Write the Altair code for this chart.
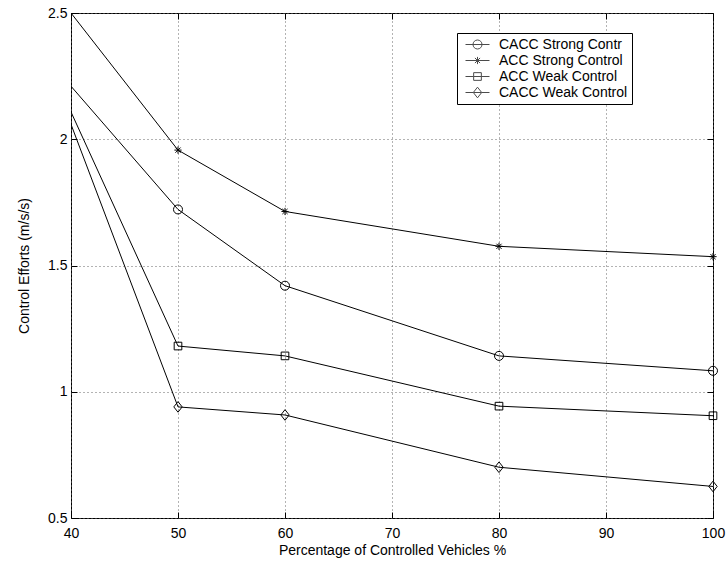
import altair as alt
import pandas as pd

# ---- data ----
pct = [40, 50, 60, 80, 100]
series_names = ["CACC Strong Contr", "ACC Strong Control", "ACC Weak Control", "CACC Weak Control"]
cacc_strong = [2.21, 1.722, 1.420, 1.142, 1.083]
acc_strong = [2.50, 1.957, 1.714, 1.576, 1.535]
acc_weak = [2.108, 1.181, 1.142, 0.943, 0.905]
cacc_weak = [2.059, 0.940, 0.908, 0.701, 0.625]
x_ticks = [40, 50, 60, 70, 80, 90, 100]
y_ticks = [0.5, 1, 1.5, 2, 2.5]

# ---- marker shapes (unit paths) ----
marker_paths = [
    "M-1,0A1,1 0 1,1 1,0A1,1 0 1,1 -1,0Z",
    "M-0.8,0L0.8,0M0,-0.8L0,0.8M-0.57,-0.57L0.57,0.57M-0.57,0.57L0.57,-0.57",
    "M-0.85,-0.85L0.85,-0.85L0.85,0.85L-0.85,0.85Z",
    "M0,-1.18L0.93,0L0,1.18L-0.93,0Z",
]
legend_paths = [
    "M-1.714,0L-0.643,0M0.643,0L1.714,0M-0.643,0A0.643,0.643 0 1,1 0.643,0A0.643,0.643 0 1,1 -0.643,0M-0.643,0L0.643,0",
    "M-1.714,0L1.714,0M0,-0.514L0,0.514M-0.367,-0.367L0.367,0.367M-0.367,0.367L0.367,-0.367",
    "M-1.714,0L-0.55,0M0.55,0L1.714,0M-0.55,-0.55L0.55,-0.55L0.55,0.55L-0.55,0.55ZM-0.55,0L0.55,0",
    "M-1.714,0L-0.6,0M0.6,0L1.714,0M0,-0.76L0.6,0L0,0.76L-0.6,0ZM-0.6,0L0.6,0",
]

rows = []
for name, vals in zip(series_names, [cacc_strong, acc_strong, acc_weak, cacc_weak]):
    for p, v in zip(pct, vals):
        rows.append({"pct": p, "value": v, "series": name})
df = pd.DataFrame(rows)

W, H = 642, 505
FONT = "Liberation Sans"
xs = alt.Scale(domain=[40, 100], nice=False, zero=False)
ys = alt.Scale(domain=[0.5, 2.5], nice=False, zero=False)

main_x = alt.Axis(orient="bottom", values=x_ticks, grid=True, gridDash=[1, 3], gridColor="#666",
                  gridWidth=1, ticks=False, domain=False, labelPadding=8, labelFlush=False,
                  title="Percentage of Controlled Vehicles %", titleX=W / 2, titleY=32,
                  titleBaseline="middle", titleAlign="center")
main_y = alt.Axis(orient="left", values=y_ticks, format="~g", grid=True, gridDash=[1, 3], gridColor="#666",
                  gridWidth=1, ticks=False, domain=False, labelPadding=4, labelFlush=False,
                  title="Control Efforts (m/s/s)", titleX=-47, titleY=H / 2, titleAngle=270,
                  titleBaseline="middle", titleAlign="center")

def tick_axis(orient, offset):
    return alt.Axis(orient=orient, offset=offset, values=(x_ticks if orient in ("top", "bottom") else y_ticks),
                    ticks=True, tickSize=6, tickColor="black", tickWidth=1, labels=False,
                    domain=False, grid=False, title=None)

lines = alt.Chart(df).mark_line(color="black", strokeWidth=1, clip=True).encode(
    x=alt.X("pct:Q", scale=xs, axis=main_x),
    y=alt.Y("value:Q", scale=ys, axis=main_y),
    detail="series:N",
)

points = alt.Chart(df).transform_filter("datum.pct > 40").mark_point(
    filled=False, color="black", strokeWidth=1, size=81, opacity=1
).encode(
    x=alt.X("pct:Q", scale=xs, axis=tick_axis("top", -H)),
    y=alt.Y("value:Q", scale=ys, axis=tick_axis("right", -W)),
    shape=alt.Shape("series:N", scale=alt.Scale(domain=series_names, range=marker_paths), legend=None),
)

legend_layer = alt.Chart(df).transform_filter("false").mark_point(
    filled=False, color="black", strokeWidth=1, size=196
).encode(
    x=alt.X("pct:Q", scale=xs, axis=tick_axis("bottom", -H)),
    y=alt.Y("value:Q", scale=ys, axis=tick_axis("left", -W)),
    shape=alt.Shape(
        "series:N",
        scale=alt.Scale(domain=series_names, range=legend_paths),
        legend=alt.Legend(
            title=None, orient="none", legendX=386, legendY=20, direction="vertical",
            strokeColor="black", fillColor="white", padding=4,
            symbolSize=196, symbolStrokeWidth=1, symbolStrokeColor="black", symbolFillColor="transparent",
            symbolOffset=9, labelOffset=14, rowPadding=1,
            labelFont=FONT, labelFontSize=14, labelColor="black", labelLimit=0,
        ),
    ),
)

chart = alt.layer(lines, points, legend_layer).resolve_scale(
    shape="independent"
).resolve_axis(
    x="independent", y="independent"
).properties(
    width=W, height=H,
    autosize=alt.AutoSizeParams(type="none"),
    padding={"left": 71, "top": 13, "right": 15, "bottom": 54},
    background="white",
).configure_view(
    stroke="black", strokeWidth=1
).configure_axis(
    labelFont=FONT, titleFont=FONT, labelFontSize=14, titleFontSize=14,
    labelColor="black", titleColor="black", titleFontWeight="normal",
)

chart.save("out.html", embed_options={"renderer": "svg", "actions": False})
